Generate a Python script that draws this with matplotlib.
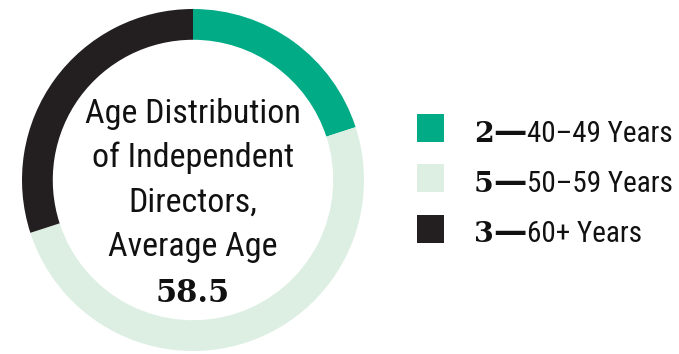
import matplotlib
matplotlib.use("Agg")
import matplotlib.pyplot as plt
from matplotlib import font_manager

counts = [2, 5, 3]
ranges = ["40\u201349 Years", "50\u201359 Years", "60+ Years"]
colors = ["#00AB85", "#DDEFE3", "#231F20"]
title_lines = ["Age Distribution", "of Independent", "Directors,", "Average Age"]
avg_age = 58.5

names = {f.name for f in font_manager.fontManager.ttflist}
sans = "Roboto"
for cand in ["Liberation Sans Narrow", "Roboto Condensed", "Open Sans Condensed"]:
    if cand in names:
        sans = cand
        break
serif = "DejaVu Serif"
ink = "#111111"

W, H = 679, 354
fig = plt.figure(figsize=(W / 100, H / 100), dpi=100)

# donut: center (193, 180) px, outer radius 171 px
cx, cy, r = 193, 180, 171
ax = fig.add_axes([(cx - r) / W, (H - cy - r) / H, 2 * r / W, 2 * r / H])
ax.pie(counts, colors=colors, startangle=90, counterclock=False, radius=1,
       wedgeprops=dict(width=0.18, linewidth=0))
ax.set_xlim(-1, 1)
ax.set_ylim(-1, 1)
ax.set_aspect("equal")
ax.axis("off")

# centre caption, baselines in px from top
base_y = [123, 167, 212, 256]
for txt, py in zip(title_lines, base_y):
    ax.text(0, (cy - py) / r, txt, ha="center", va="baseline",
            fontsize=24.5, family=sans, color=ink)
ax.text(0, (cy - 302) / r, f"{avg_age}", ha="center", va="baseline",
        fontsize=22, family=serif, fontweight="bold", color=ink)

# legend drawn by hand
sq_y = [128, 178, 229]
leg_base = [142, 192, 242]
for n, lab, c, py, by in zip(counts, ranges, colors, sq_y, leg_base):
    yf = (H - py) / H
    bf = (H - by) / H
    fig.patches.append(plt.Rectangle((417 / W, yf - 14 / H), 27 / W, 28 / H,
                                     transform=fig.transFigure, color=c, lw=0))
    fig.text(474 / W, bf, f"{n}", ha="left", va="baseline",
             fontsize=20.5, family=serif, fontweight="bold", color=ink)
    fig.text(493 / W, bf, "\u2014", ha="left", va="baseline",
             fontsize=24, family="DejaVu Sans", fontweight="bold", color=ink)
    fig.text(527 / W, bf, lab, ha="left", va="baseline",
             fontsize=21, family=sans, color=ink)

fig.savefig("out.png", dpi=100)
